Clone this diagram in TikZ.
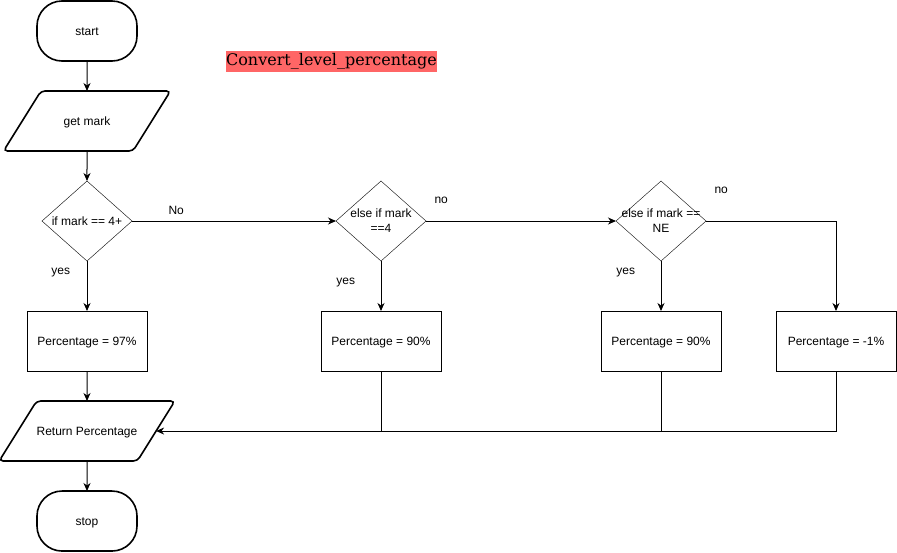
\documentclass[tikz,border=0pt]{standalone}
\usepackage{fontspec}
\setmainfont{Liberation Sans}
\newfontfamily\titlefont{DejaVu Serif}
\usetikzlibrary{positioning,shapes.geometric,arrows.meta}
\definecolor{titlered}{HTML}{FF6666}

\begin{document}
\begin{tikzpicture}[
  x=1pt,y=-1pt,
  font=\fontsize{12}{15}\selectfont,
  every node/.append style={outer sep=0pt},
  >={Stealth[length=8pt,width=7pt,inset=2.5pt]},
  terminal/.style={draw,line width=1.6pt,rounded corners=25pt,minimum width=100pt,minimum height=60pt,
    text height=10pt,text depth=1pt},
  io/.style={draw,line width=1.6pt,trapezium,trapezium left angle=58,trapezium right angle=122,
    trapezium stretches body,rounded corners=4pt,minimum width=167pt,
    text height=10.5pt,text depth=1.5pt,inner xsep=0pt,inner ysep=24pt},
  test/.style={draw,diamond,minimum width=90pt,minimum height=80pt,inner sep=0pt},
  process/.style={draw,minimum width=120pt,minimum height=60pt,text height=10pt,text depth=1pt},
  ]
  \useasboundingbox (0,0) rectangle (897,552);
  \begin{scope}[node distance=30pt]
    \node[terminal] (flowStart) at (87,31) {start};
    \node[io,below=of flowStart] (flowGet) {get mark};
    \node[test,below=of flowGet,label={[align=center]center:if mark == 4+}] (testA) {};
    \node[test,right=204pt of testA,label={[align=center]center:else if mark\\==4}] (testB) {};
    \node[test,right=190pt of testB,label={[align=center]center:else if mark ==\\NE}] (testC) {};
    \node[process,below=50pt of testA] (resA) {Percentage = 97\%};
    \node[process,below=50pt of testB] (resB) {Percentage = 90\%};
    \node[process,below=50pt of testC] (resC) {Percentage = 90\%};
    \node[process,right=55pt of resC] (resD) {Percentage = -1\%};
    \node[io,below=of resA] (flowRet) {Return Percentage};
    \node[terminal,below=of flowRet] (flowStop) {stop};
  \end{scope}
  \node[fill=titlered,inner xsep=0.5pt,inner ysep=0pt,minimum height=21pt,
    font=\titlefont\fontsize{16}{18}\selectfont] (title) at (331.5,61) {Convert\_level\_percentage};
  \begin{scope}[every node/.style={inner sep=0pt}]
    \node[above right=5.7pt and 36.3pt of testA.east] (ansNo) {No};
    \node[above right=16.9pt and 8.3pt of testB.east] (ansNoB) {no};
    \node[above right=26.9pt and 8.3pt of testC.east] (ansNoC) {no};
    \node[below left=6.9pt and 16.7pt of testA.south] (ansYes) {yes};
    \node[below left=16.9pt and 25.7pt of testB.south] (ansYesB) {yes};
    \node[below left=6.9pt and 25.7pt of testC.south] (ansYesC) {yes};
  \end{scope}
  \begin{scope}[every path/.style={draw,line width=1pt}]
    \path[->] (flowStart) -- (flowGet);
    \path[->] (flowGet) -- (testA);
    \path[->] (testA) -- (testB);
    \path[->] (testB) -- (testC);
    \path[->] (testC) -| (resD);
    \path[->] (testA) -- (resA);
    \path[->] (testB) -- (resB);
    \path[->] (testC) -- (resC);
    \path[->] (resA) -- (flowRet);
    \path (resB) -- (resB |- flowRet);
    \path (resC) -- (resC |- flowRet);
    \path[->] (resD) |- (flowRet);
    \path[->] (flowRet) -- (flowStop);
  \end{scope}
\end{tikzpicture}
\end{document}
